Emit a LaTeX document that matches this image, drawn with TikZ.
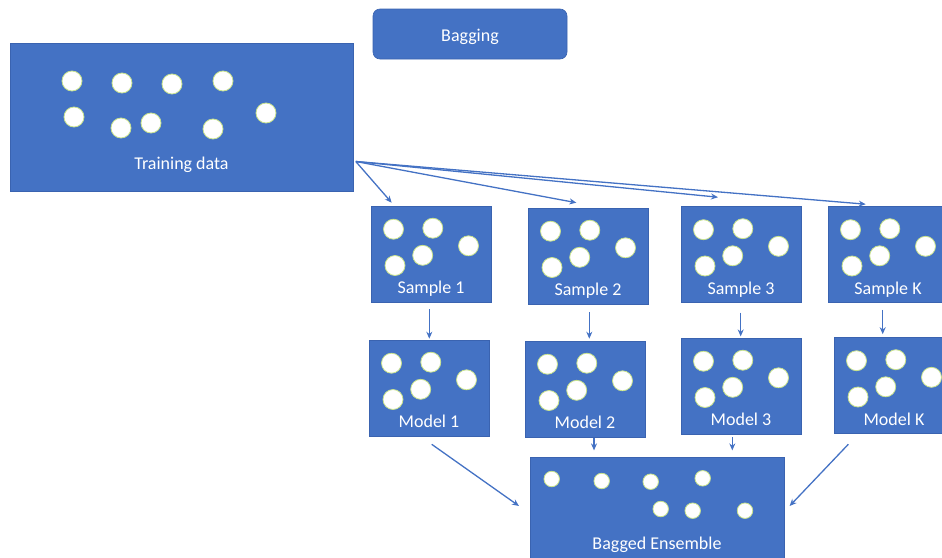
\documentclass[tikz,border=0pt]{standalone}
\usepackage{fontspec}
\setmainfont{Carlito}
\usetikzlibrary{calc,arrows.meta}
\definecolor{obl}{HTML}{4472C4}
\definecolor{obd}{HTML}{3A63B0}
\definecolor{dotl}{HTML}{C8E28C}
\begin{document}
\begin{tikzpicture}[x=1pt,y=-1pt,
  box/.style={fill=obl,draw=obd,line width=0.6pt,inner sep=0pt,minimum width=120pt,minimum height=96pt},
  lbl/.style={text=white,font=\fontsize{18}{21}\selectfont,inner sep=0pt,anchor=base},
  dot/.style={circle,fill=white,draw=dotl,line width=0.8pt,minimum size=20pt,inner sep=0pt},
  sdot/.style={dot,minimum size=15.5pt},
  arr/.style={draw=obl,line width=1.3pt,-{Stealth[length=7pt,width=6pt]}}]
\useasboundingbox (0,0) rectangle (942,557);
\clip (0,0) rectangle (942,557);

% title
\node[fill=obl,draw=obd,line width=0.6pt,rounded corners=7pt,minimum width=194pt,minimum height=50pt,inner sep=0pt] (bag) at (470,34) {};
\node[lbl] (bagt) at (470,41) {Bagging};

% training data
\node[box,minimum width=343pt,minimum height=148pt] (train) at (181.5,117) {};
\node[lbl] (traint) at (181.5,169) {Training data};
\foreach \x/\y [count=\i] in {72/81,122/83,172/84,223/81,74/117,121/128,151/123,213/129,266/113}
  \node[dot] (td\i) at (\x,\y) {};

% samples and models
\foreach \n/\cx/\cy/\lab in {s1/431/254/Sample 1,s2/588/256/Sample 2,s3/741/254.5/Sample 3,sk/888/254.5/Sample K,
                             m1/429/388/Model 1,m2/585/389/Model 2,m3/741/386/Model 3,mk/894/385.5/Model K}{
  \node[box] (\n) at (\cx,\cy) {};
  \node[lbl] (\n-t) at (\cx,\cy+39.5) {\lab};
  \foreach \dx/\dy [count=\i] in {-37.5/-24.8,1.8/-25.8,37.5/-8.2,-8.3/1.3,-36/11.5}
    \node[dot] (\n-c\i) at (\cx+\dx,\cy+\dy) {};
}

% bagged ensemble
\node[box,minimum width=254pt,minimum height=113pt] (be) at (657,513.5) {};
\node[lbl] (bet) at (657,549.5) {Bagged Ensemble};
\foreach \x/\y [count=\i] in {551.7/479,601.7/481,650.7/481.7,702.7/478.3,660.7/509,692.7/510.7,745/510.7}
  \node[sdot] (bd\i) at (\x,\y) {};

% arrows from training data
\coordinate (src) at ($(train.east)+(2.5,44.5)$);
\draw[arr] (src) -- ($(s1.north west)+(21,-3)$);
\draw[arr] (src) -- ($(s2.north west)+(48.7,-5)$);
\draw[arr] (src) -- ($(s3.north west)+(37.3,-9)$);
\draw[arr] (src) -- ($(sk.north west)+(38,-2)$);

% sample -> model
\draw[arr] ([xshift=-1.7pt,yshift=-7pt]s1.south) -- ([xshift=-1.7pt,yshift=1pt]s1.south |- m1.north);
\draw[arr] ([xshift=1.3pt,yshift=-7.7pt]s2.south) -- ([xshift=1.3pt,yshift=2pt]s2.south |- m2.north);
\draw[arr] ([xshift=-0.3pt,yshift=-9.7pt]s3.south) -- ([xshift=-0.3pt,yshift=1.3pt]s3.south |- m3.north);
\draw[arr] ([xshift=-5.3pt,yshift=-7pt]sk.south) -- ([xshift=-5.3pt,yshift=3pt]sk.south |- mk.north);

% model -> ensemble
\draw[arr] ($(m1.south)+(2.7,8)$) -- ($(be.west)+(-10.7,-7.5)$);
\draw[arr] ([xshift=9pt,yshift=-0.5pt]m2.south) -- ([xshift=9pt,yshift=6.3pt]m2.south |- be.north);
\draw[arr] ([xshift=-8.7pt,yshift=-2.7pt]m3.south) -- ([xshift=-8.7pt,yshift=6.3pt]m3.south |- be.north);
\draw[arr] ($(mk.south)+(-45.7,10.5)$) -- ($(be.east)+(5.3,-7.5)$);
\end{tikzpicture}
\end{document}
